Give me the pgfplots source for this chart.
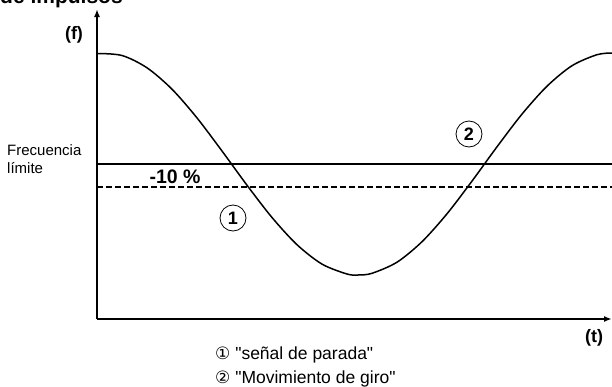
\documentclass[border=0pt]{standalone}
\usepackage{pgfplots}
\pgfplotsset{compat=1.18}
\usepackage{fontspec}
\setmainfont{Liberation Sans}
\newfontfamily\symfont{DejaVu Sans}
\usetikzlibrary{arrows.meta}

\begin{document}
\begin{tikzpicture}
\begin{axis}[
    scale only axis,
    width=515bp, height=310bp,
    xmin=0, xmax=515,
    ymin=0, ymax=310,
    axis lines=left,
    axis line style={line width=1.6bp},
    every outer x axis line/.append style={-{Latex[length=8bp,width=6bp]}},
    every outer y axis line/.append style={-{Latex[length=8bp,width=6bp]}},
    xtick=\empty, ytick=\empty,
    clip=false,
    ]
    % limit frequency and -10 % threshold
    \addplot[line width=1.6bp] coordinates {(0,155) (515,155)};
    \addplot[line width=1.3bp, dash pattern=on 6bp off 3bp] coordinates {(0,132) (515,132)};
    % impulse frequency curve
    \addplot[smooth, line width=1.5bp] coordinates {
        (0,265.5) (25,263.5) (50,251.2) (75,229.8) (100,201.1) (125,168.0)
        (150,133.8) (175,101.5) (200,74.3) (225,54.9) (250,45.0) (261,44.0)
        (275,45.7) (300,56.8) (325,77.3) (350,105.2) (375,137.9) (400,172.2)
        (425,204.9) (450,232.8) (475,253.3) (500,264.3) (515,266.0)
    };
    \coordinate (O) at (axis cs:0,0);
    \node[font=\bfseries\fontsize{18bp}{20bp}\selectfont] at (axis cs:-23,284) {(f)};
    \node[font=\bfseries\fontsize{18bp}{20bp}\selectfont] at (axis cs:497,-19) {(t)};
    \node[font=\bfseries\fontsize{19.5bp}{22bp}\selectfont] at (axis cs:78,142) {-10 \%};
    \node[draw, circle, line width=0.8bp, minimum size=26bp, inner sep=0pt,
          font=\bfseries\fontsize{18bp}{20bp}\selectfont] at (axis cs:136,101) {1};
    \node[draw, circle, line width=0.8bp, minimum size=26bp, inner sep=0pt,
          font=\bfseries\fontsize{18bp}{20bp}\selectfont] at (axis cs:372,185) {2};
    \node[anchor=base west, inner sep=0pt, font=\fontsize{15bp}{18bp}\selectfont] at (axis cs:-90,164) {Frecuencia};
    \node[anchor=base west, inner sep=0pt, font=\fontsize{15bp}{18bp}\selectfont] at (axis cs:-90,146) {límite};
    \node[anchor=base west, inner sep=0pt, font=\fontsize{17.5bp}{20bp}\selectfont] at (axis cs:118,-40) {{\symfont\fontsize{17bp}{20bp}\selectfont ①} \textquotedbl señal de parada\textquotedbl};
    \node[anchor=base west, inner sep=0pt, font=\fontsize{17.5bp}{20bp}\selectfont] at (axis cs:118,-64) {{\symfont\fontsize{17bp}{20bp}\selectfont ②} \textquotedbl Movimiento de giro\textquotedbl};
    \node[anchor=base west, inner sep=0pt, font=\bfseries\fontsize{21bp}{24bp}\selectfont] at (axis cs:-97,316) {de impulsos};
\end{axis}
\pgfresetboundingbox
\path[use as bounding box] (O) ++(-97bp,-68bp) rectangle ++(612bp,387bp);
\end{tikzpicture}
\end{document}
